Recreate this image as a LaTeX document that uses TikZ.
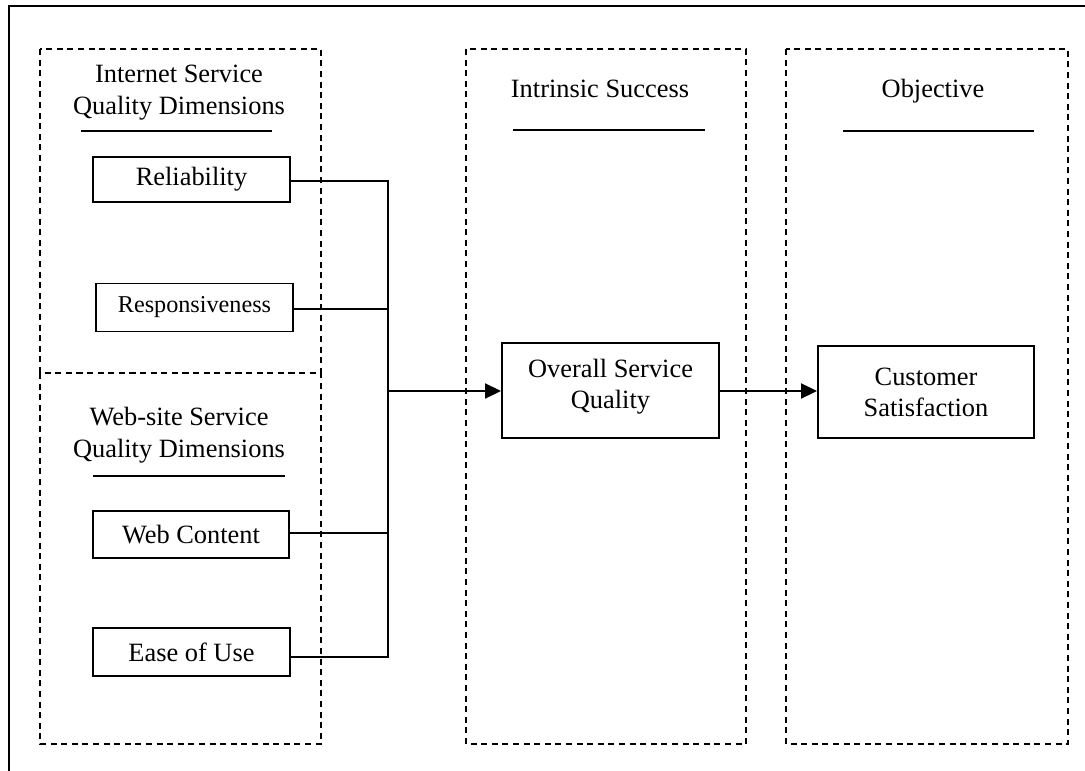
\documentclass[tikz,border=0pt]{standalone}
\usepackage{fontspec}
\setmainfont{Liberation Serif}
\usetikzlibrary{arrows.meta}
\begin{document}
\begin{tikzpicture}[x=1pt,y=-1pt,
  frame/.style={line width=2.2pt},
  panel/.style={line width=2.2pt, dash pattern=on 6pt off 4.6pt},
  dimbox/.style={draw, line width=1.8pt, minimum width=197pt, minimum height=47pt, inner sep=0pt, font=\fontsize{26.4}{31.5}\selectfont},
  heading/.style={font=\fontsize{26.4}{32}\selectfont, align=center, inner sep=0pt},
  headrule/.style={line width=2.6pt},
  wire/.style={line width=1.7pt},
  flow/.style={line width=2.2pt, -{Triangle[length=16pt,width=15pt]}},
  result/.style={draw, line width=2pt, align=center, inner sep=0pt, font=\fontsize{26.4}{31}\selectfont}
]
\useasboundingbox (0,0) rectangle (1085,771);
% outer frame
\draw[frame] (9,6) rectangle (1100,790);
% panels
\draw[panel] (40,49) rectangle (321,373);
\draw[panel] (40,373) rectangle (321,744);
\draw[panel] (466,49) rectangle (746,744);
\draw[panel] (786,49) rectangle (1068,744);
% headings
\node[heading, anchor=base] (ish) at (179,114) {Internet Service\\Quality Dimensions};
\draw[headrule] (81,131) -- (272,131);
\node[heading, anchor=base] (wsh) at (179,457) {Web-site Service\\Quality Dimensions};
\draw[headrule] (93,476) -- (285,476);
\node[heading, anchor=base] (ins) at (600,97) {Intrinsic Success};
\draw[headrule] (513,130) -- (705,130);
\node[heading, anchor=base] (obj) at (933,97) {Objective};
\draw[headrule] (843,131) -- (1034,131);
% dimension boxes
\node[dimbox, minimum height=45pt] (rel) at (191.5,179.5) {Reliability};
\node[dimbox, minimum height=48pt, font=\fontsize{24.2}{29}\selectfont] (res) at (194.5,307.5) {Responsiveness};
\node[dimbox, minimum width=196pt] (web) at (191,534.5) {Web Content};
\node[dimbox, minimum height=48pt] (eas) at (191.5,652) {Ease of Use};
% result boxes
\node[result, minimum width=217pt, minimum height=95pt] (ovq) at (610.5,390.5) {Overall Service\\Quality\rule[-14pt]{0pt}{0pt}};
\node[result, minimum width=216pt, minimum height=92pt] (cus) at (926,392) {Customer\\Satisfaction};
% bus
\coordinate (bt) at (388,181);
\coordinate (bb) at (388,657);
\coordinate (bm) at (388,391);
\draw[wire] (rel.east |- bt) -- (bt) -- (bb) -- (eas.east |- bb);
\draw[wire] (res.east |- 0,309) -- (bt |- 0,309);
\draw[wire] (web.east |- 0,533) -- (bt |- 0,533);
\draw[flow] (bm) -- (ovq.west |- bm);
\draw[flow] (ovq.east |- bm) -- (cus.west |- bm);
\end{tikzpicture}
\end{document}
